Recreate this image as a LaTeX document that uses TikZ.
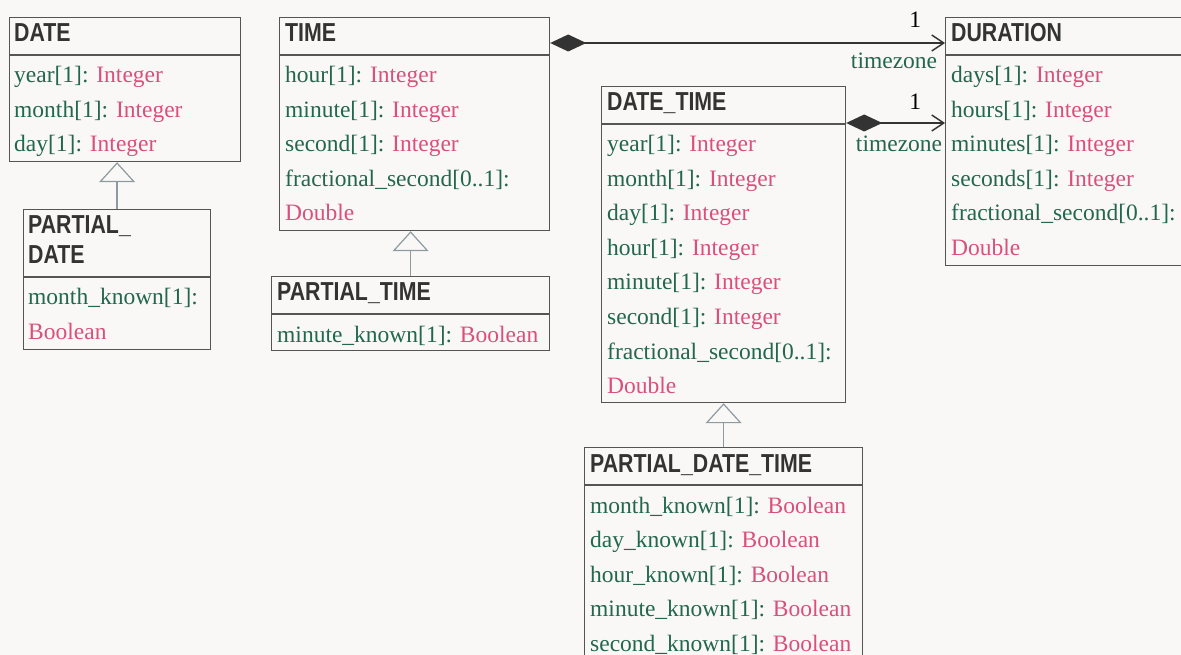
\documentclass[tikz,border=0pt]{standalone}
\usepackage{fontspec}
\setmainfont{Liberation Serif}
\newfontfamily\headfont[FakeStretch=0.82]{Liberation Sans}
\usetikzlibrary{arrows.meta,calc}
\definecolor{bgcol}{HTML}{F9F8F6}
\definecolor{attrgreen}{HTML}{23674F}
\definecolor{typepink}{HTML}{D9507E}
\definecolor{headgray}{HTML}{333333}
\definecolor{boxgray}{HTML}{555555}
\definecolor{gengray}{HTML}{8D9BA1}
\newcommand{\umlattr}[2]{\textcolor{attrgreen}{#1:} \textcolor{typepink}{#2}}

\begin{document}
\begin{tikzpicture}[x=1pt,y=-1pt,
    classbox/.style={draw=boxgray,line width=1.2pt,anchor=north west,inner sep=0pt},
    sepline/.style={draw=boxgray,line width=1.2pt},
    classtitle/.style={anchor=base west,inner sep=0pt,text=headgray,font=\fontsize{26}{30}\selectfont\headfont\bfseries},
    attrtext/.style={anchor=base west,inner sep=0pt,font=\fontsize{23.5}{34.5}\selectfont},
    rolelabel/.style={anchor=base east,inner sep=0pt,font=\fontsize{23.5}{28}\selectfont},
    genline/.style={draw=gengray,line width=1.6pt,-{Triangle[open,length=20pt,width=36pt,fill=bgcol,line width=1.2pt]}},
    compline/.style={draw=headgray,line width=1.8pt,{Diamond[length=36pt,width=17pt]}-{Straight Barb[length=12pt,width=16pt,line width=1.4pt]}}]
  \useasboundingbox[fill=bgcol] (0,0) rectangle (1181,655);
  \clip (0,0) rectangle (1181,655);

  % DATE
  \node[classbox,minimum width=231pt,minimum height=144pt] (date) at (9,17) {};
  \draw[sepline] ([shift={(0,38)}]date.north west) -- ([shift={(0,38)}]date.north east);
  \node[classtitle] at ([shift={(5,25)}]date.north west) {DATE};
  \foreach \txt [count=\i from 0] in {{\umlattr{year[1]}{Integer}},{\umlattr{month[1]}{Integer}},{\umlattr{day[1]}{Integer}}}
    \node[attrtext] at ([shift={(5,66+34.5*\i)}]date.north west) {\txt};

  % PARTIAL_DATE
  \node[classbox,minimum width=187pt,minimum height=140pt] (pdate) at (23,209) {};
  \draw[sepline] ([shift={(0,68)}]pdate.north west) -- ([shift={(0,68)}]pdate.north east);
  \node[classtitle] at ([shift={(5,25)}]pdate.north west) {PARTIAL\_};
  \node[classtitle] at ([shift={(5,55)}]pdate.north west) {DATE};
  \node[attrtext] at ([shift={(5,96)}]pdate.north west) {\textcolor{attrgreen}{month\_known[1]:}};
  \node[attrtext] at ([shift={(5,130.5)}]pdate.north west) {\textcolor{typepink}{Boolean}};

  % TIME
  \node[classbox,minimum width=270pt,minimum height=213pt] (time) at (279,17) {};
  \draw[sepline] ([shift={(0,38)}]time.north west) -- ([shift={(0,38)}]time.north east);
  \node[classtitle] at ([shift={(6,25)}]time.north west) {TIME};
  \foreach \txt [count=\i from 0] in {{\umlattr{hour[1]}{Integer}},{\umlattr{minute[1]}{Integer}},{\umlattr{second[1]}{Integer}},
      {\textcolor{attrgreen}{fractional\_second[0..1]:}},{\textcolor{typepink}{Double}}}
    \node[attrtext] at ([shift={(6,66+34.5*\i)}]time.north west) {\txt};

  % PARTIAL_TIME
  \node[classbox,minimum width=278pt,minimum height=74pt] (ptime) at (271,276) {};
  \draw[sepline] ([shift={(0,38)}]ptime.north west) -- ([shift={(0,38)}]ptime.north east);
  \node[classtitle] at ([shift={(6,25)}]ptime.north west) {PARTIAL\_TIME};
  \node[attrtext] at ([shift={(6,66)}]ptime.north west) {\umlattr{minute\_known[1]}{Boolean}};

  % DATE_TIME
  \node[classbox,minimum width=244pt,minimum height=316pt] (datetime) at (601,86) {};
  \draw[sepline] ([shift={(0,38)}]datetime.north west) -- ([shift={(0,38)}]datetime.north east);
  \node[classtitle] at ([shift={(6,25)}]datetime.north west) {DATE\_TIME};
  \foreach \txt [count=\i from 0] in {{\umlattr{year[1]}{Integer}},{\umlattr{month[1]}{Integer}},{\umlattr{day[1]}{Integer}},
      {\umlattr{hour[1]}{Integer}},{\umlattr{minute[1]}{Integer}},{\umlattr{second[1]}{Integer}},
      {\textcolor{attrgreen}{fractional\_second[0..1]:}},{\textcolor{typepink}{Double}}}
    \node[attrtext] at ([shift={(6,66+34.5*\i)}]datetime.north west) {\txt};

  % PARTIAL_DATE_TIME
  \node[classbox,minimum width=278pt,minimum height=216pt] (pdatetime) at (584,447) {};
  \draw[sepline] ([shift={(0,38)}]pdatetime.north west) -- ([shift={(0,38)}]pdatetime.north east);
  \node[classtitle] at ([shift={(6,25)}]pdatetime.north west) {PARTIAL\_DATE\_TIME};
  \foreach \txt [count=\i from 0] in {{\umlattr{month\_known[1]}{Boolean}},{\umlattr{day\_known[1]}{Boolean}},
      {\umlattr{hour\_known[1]}{Boolean}},{\umlattr{minute\_known[1]}{Boolean}},{\umlattr{second\_known[1]}{Boolean}}}
    \node[attrtext] at ([shift={(6,66+34.5*\i)}]pdatetime.north west) {\txt};

  % DURATION
  \node[classbox,minimum width=245pt,minimum height=248pt] (duration) at (945,17) {};
  \draw[sepline] ([shift={(0,38)}]duration.north west) -- ([shift={(0,38)}]duration.north east);
  \node[classtitle] at ([shift={(6,25)}]duration.north west) {DURATION};
  \foreach \txt [count=\i from 0] in {{\umlattr{days[1]}{Integer}},{\umlattr{hours[1]}{Integer}},{\umlattr{minutes[1]}{Integer}},
      {\umlattr{seconds[1]}{Integer}},{\textcolor{attrgreen}{fractional\_second[0..1]:}},{\textcolor{typepink}{Double}}}
    \node[attrtext] at ([shift={(6,66+34.5*\i)}]duration.north west) {\txt};

  % generalisations
  \draw[genline] (pdate.north) -- (pdate.north |- date.south);
  \draw[genline] (ptime.north) -- (ptime.north |- time.south);
  \draw[genline] (pdatetime.north) -- (pdatetime.north |- datetime.south);

  % timezone compositions
  \coordinate (tz1) at ([shift={(0,26)}]time.north east);
  \coordinate (tz2) at ([shift={(0,37)}]datetime.north east);
  \draw[compline] (tz1) -- (tz1 -| duration.west)
    node[rolelabel,pos=1,xshift=-23pt,yshift=15pt] {1}
    node[rolelabel,pos=1,xshift=-7pt,yshift=-26pt,text=attrgreen] {timezone};
  \draw[compline] (tz2) -- (tz2 -| duration.west)
    node[rolelabel,pos=1,xshift=-23pt,yshift=13pt] {1}
    node[rolelabel,pos=1,xshift=-2pt,yshift=-29pt,text=attrgreen] {timezone};
\end{tikzpicture}
\end{document}
